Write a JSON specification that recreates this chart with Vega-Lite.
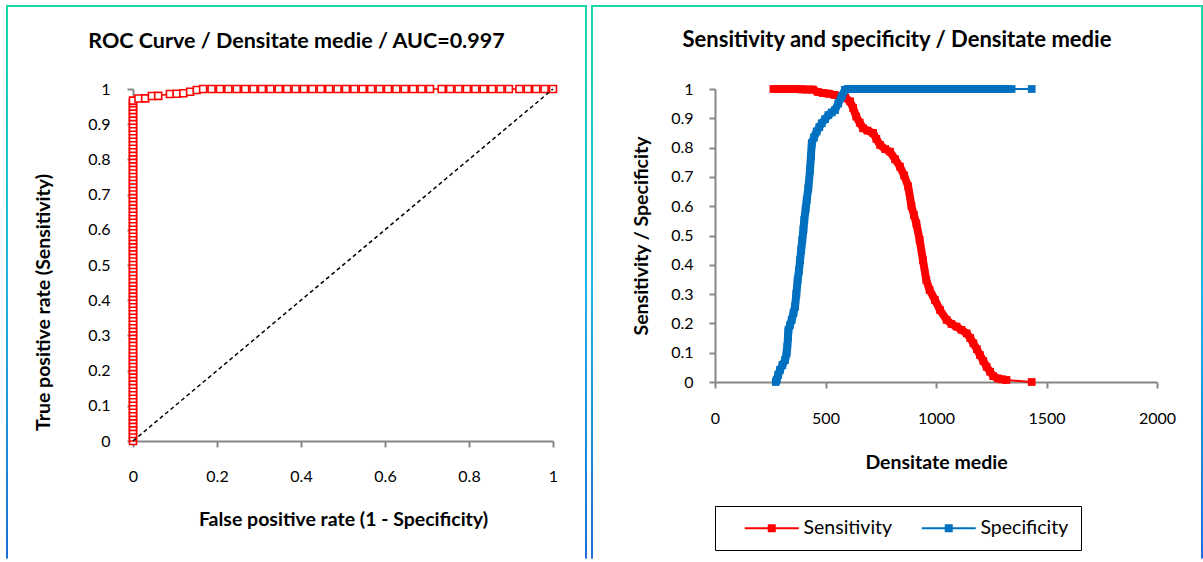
{
  "$schema": "https://vega.github.io/schema/vega-lite/v6.json",
  "background": "white",
  "padding": {"left": 6, "top": 5, "right": 0, "bottom": 0},
  "spacing": 4,
  "config": {
    "font": "Lato",
    "axis": {"domainColor": "#868686", "domainWidth": 2, "tickColor": "#868686", "tickWidth": 2, "tickSize": 6, "labelFont": "Lato", "labelFontSize": 16, "labelColor": "#000000", "labelFlush": false, "labelOverlap": false, "titleFont": "Lato", "titleFontSize": 19.5, "titleFontWeight": "bold", "titleColor": "#000000", "grid": false, "format": "~g"},
    "title": {"font": "Lato", "fontSize": 21.5, "fontWeight": "bold", "color": "#000000", "anchor": "middle", "baseline": "alphabetic", "offset": -46}
  },
  "resolve": {"scale": {"color": "independent"}, "legend": {"color": "independent"}},
  "datasets": {
    "roc": [
      {"f":0,"t":0},{"f":0,"t":0.01},{"f":0,"t":0.02},{"f":0,"t":0.03},{"f":0,"t":0.04},{"f":0,"t":0.05},{"f":0,"t":0.06},{"f":0,"t":0.07},{"f":0,"t":0.08},{"f":0,"t":0.09},
      {"f":0,"t":0.10},{"f":0,"t":0.11},{"f":0,"t":0.12},{"f":0,"t":0.13},{"f":0,"t":0.14},{"f":0,"t":0.15},{"f":0,"t":0.16},{"f":0,"t":0.17},{"f":0,"t":0.18},{"f":0,"t":0.19},
      {"f":0,"t":0.20},{"f":0,"t":0.21},{"f":0,"t":0.22},{"f":0,"t":0.23},{"f":0,"t":0.24},{"f":0,"t":0.25},{"f":0,"t":0.26},{"f":0,"t":0.27},{"f":0,"t":0.28},{"f":0,"t":0.29},
      {"f":0,"t":0.30},{"f":0,"t":0.31},{"f":0,"t":0.32},{"f":0,"t":0.33},{"f":0,"t":0.34},{"f":0,"t":0.35},{"f":0,"t":0.36},{"f":0,"t":0.37},{"f":0,"t":0.38},{"f":0,"t":0.39},
      {"f":0,"t":0.40},{"f":0,"t":0.41},{"f":0,"t":0.42},{"f":0,"t":0.43},{"f":0,"t":0.44},{"f":0,"t":0.45},{"f":0,"t":0.46},{"f":0,"t":0.47},{"f":0,"t":0.48},{"f":0,"t":0.49},
      {"f":0,"t":0.50},{"f":0,"t":0.51},{"f":0,"t":0.52},{"f":0,"t":0.53},{"f":0,"t":0.54},{"f":0,"t":0.55},{"f":0,"t":0.56},{"f":0,"t":0.57},{"f":0,"t":0.58},{"f":0,"t":0.59},
      {"f":0,"t":0.60},{"f":0,"t":0.61},{"f":0,"t":0.62},{"f":0,"t":0.63},{"f":0,"t":0.64},{"f":0,"t":0.65},{"f":0,"t":0.66},{"f":0,"t":0.67},{"f":0,"t":0.68},{"f":0,"t":0.69},
      {"f":0,"t":0.70},{"f":0,"t":0.71},{"f":0,"t":0.72},{"f":0,"t":0.73},{"f":0,"t":0.74},{"f":0,"t":0.75},{"f":0,"t":0.76},{"f":0,"t":0.77},{"f":0,"t":0.78},{"f":0,"t":0.79},
      {"f":0,"t":0.80},{"f":0,"t":0.81},{"f":0,"t":0.82},{"f":0,"t":0.83},{"f":0,"t":0.84},{"f":0,"t":0.85},{"f":0,"t":0.86},{"f":0,"t":0.87},{"f":0,"t":0.88},{"f":0,"t":0.89},
      {"f":0,"t":0.90},{"f":0,"t":0.91},{"f":0,"t":0.92},{"f":0,"t":0.93},{"f":0,"t":0.94},{"f":0,"t":0.95},{"f":0,"t":0.96},
      {"f":0,"t":0.967},{"f":0.013,"t":0.973},{"f":0.029,"t":0.9735},{"f":0.045,"t":0.98},{"f":0.06,"t":0.9805},{"f":0.088,"t":0.986},{"f":0.104,"t":0.9865},{"f":0.12,"t":0.988},{"f":0.136,"t":0.992},{"f":0.152,"t":0.997},{"f":0.167,"t":1},
      {"f":0.187,"t":1},{"f":0.207,"t":1},{"f":0.227,"t":1},{"f":0.247,"t":1},{"f":0.267,"t":1},{"f":0.287,"t":1},{"f":0.307,"t":1},{"f":0.327,"t":1},{"f":0.347,"t":1},{"f":0.367,"t":1},
      {"f":0.387,"t":1},{"f":0.407,"t":1},{"f":0.427,"t":1},{"f":0.447,"t":1},{"f":0.467,"t":1},{"f":0.487,"t":1},{"f":0.507,"t":1},{"f":0.527,"t":1},{"f":0.547,"t":1},{"f":0.567,"t":1},
      {"f":0.587,"t":1},{"f":0.607,"t":1},{"f":0.627,"t":1},{"f":0.647,"t":1},{"f":0.667,"t":1},{"f":0.687,"t":1},{"f":0.707,"t":1},
      {"f":0.735,"t":1},{"f":0.755,"t":1},{"f":0.775,"t":1},{"f":0.795,"t":1},{"f":0.815,"t":1},{"f":0.835,"t":1},{"f":0.855,"t":1},{"f":0.875,"t":1},{"f":0.895,"t":1},
      {"f":0.92,"t":1},{"f":0.94,"t":1},{"f":0.96,"t":1},{"f":0.98,"t":1},{"f":1,"t":1}
    ],
    "diag": [{"f":0,"t":0},{"f":1,"t":1}],
    "ss": [
      {"series":"Sensitivity","v":264,"s":1},{"series":"Sensitivity","v":290,"s":1},{"series":"Sensitivity","v":315,"s":1},{"series":"Sensitivity","v":340,"s":1},{"series":"Sensitivity","v":365,"s":1},
      {"series":"Sensitivity","v":390,"s":0.999},{"series":"Sensitivity","v":415,"s":0.998},{"series":"Sensitivity","v":443,"s":0.998},{"series":"Sensitivity","v":465,"s":0.99},{"series":"Sensitivity","v":489,"s":0.986},
      {"series":"Sensitivity","v":515,"s":0.984},{"series":"Sensitivity","v":540,"s":0.98},{"series":"Sensitivity","v":565,"s":0.976},{"series":"Sensitivity","v":590,"s":0.97},{"series":"Sensitivity","v":611,"s":0.958},
      {"series":"Sensitivity","v":625,"s":0.935},{"series":"Sensitivity","v":639,"s":0.906},{"series":"Sensitivity","v":655,"s":0.885},{"series":"Sensitivity","v":670,"s":0.866},{"series":"Sensitivity","v":690,"s":0.858},
      {"series":"Sensitivity","v":715,"s":0.85},{"series":"Sensitivity","v":730,"s":0.83},{"series":"Sensitivity","v":747,"s":0.809},{"series":"Sensitivity","v":770,"s":0.795},{"series":"Sensitivity","v":792,"s":0.786},
      {"series":"Sensitivity","v":815,"s":0.76},{"series":"Sensitivity","v":837,"s":0.735},{"series":"Sensitivity","v":856,"s":0.705},{"series":"Sensitivity","v":874,"s":0.668},{"series":"Sensitivity","v":889,"s":0.6},
      {"series":"Sensitivity","v":900,"s":0.57},{"series":"Sensitivity","v":911,"s":0.541},{"series":"Sensitivity","v":926,"s":0.485},{"series":"Sensitivity","v":941,"s":0.416},{"series":"Sensitivity","v":956,"s":0.348},
      {"series":"Sensitivity","v":971,"s":0.314},{"series":"Sensitivity","v":995,"s":0.28},{"series":"Sensitivity","v":1018,"s":0.246},{"series":"Sensitivity","v":1048,"s":0.212},{"series":"Sensitivity","v":1070,"s":0.198},
      {"series":"Sensitivity","v":1093,"s":0.189},{"series":"Sensitivity","v":1115,"s":0.178},{"series":"Sensitivity","v":1139,"s":0.166},{"series":"Sensitivity","v":1155,"s":0.15},{"series":"Sensitivity","v":1169,"s":0.132},
      {"series":"Sensitivity","v":1185,"s":0.112},{"series":"Sensitivity","v":1199,"s":0.092},{"series":"Sensitivity","v":1214,"s":0.072},{"series":"Sensitivity","v":1229,"s":0.052},{"series":"Sensitivity","v":1245,"s":0.035},
      {"series":"Sensitivity","v":1259,"s":0.02},{"series":"Sensitivity","v":1280,"s":0.012},{"series":"Sensitivity","v":1300,"s":0.009},{"series":"Sensitivity","v":1319,"s":0.007},{"series":"Sensitivity","v":1433,"s":0},
      {"series":"Specificity","v":275,"s":0},{"series":"Specificity","v":279,"s":0.007},{"series":"Specificity","v":286,"s":0.025},{"series":"Specificity","v":294,"s":0.041},{"series":"Specificity","v":305,"s":0.058},
      {"series":"Specificity","v":317,"s":0.075},{"series":"Specificity","v":324,"s":0.098},{"series":"Specificity","v":327,"s":0.12},{"series":"Specificity","v":330,"s":0.15},{"series":"Specificity","v":332,"s":0.177},
      {"series":"Specificity","v":340,"s":0.195},{"series":"Specificity","v":347,"s":0.212},{"series":"Specificity","v":355,"s":0.235},{"series":"Specificity","v":362,"s":0.257},{"series":"Specificity","v":368,"s":0.3},
      {"series":"Specificity","v":374,"s":0.348},{"series":"Specificity","v":380,"s":0.38},{"series":"Specificity","v":385,"s":0.416},{"series":"Specificity","v":390,"s":0.45},{"series":"Specificity","v":395,"s":0.485},
      {"series":"Specificity","v":400,"s":0.52},{"series":"Specificity","v":404,"s":0.553},{"series":"Specificity","v":410,"s":0.59},{"series":"Specificity","v":415,"s":0.621},{"series":"Specificity","v":422,"s":0.66},
      {"series":"Specificity","v":430,"s":0.724},{"series":"Specificity","v":434,"s":0.77},{"series":"Specificity","v":438,"s":0.815},{"series":"Specificity","v":448,"s":0.835},{"series":"Specificity","v":460,"s":0.855},
      {"series":"Specificity","v":472,"s":0.87},{"series":"Specificity","v":483,"s":0.883},{"series":"Specificity","v":498,"s":0.897},{"series":"Specificity","v":513,"s":0.911},{"series":"Specificity","v":528,"s":0.92},
      {"series":"Specificity","v":543,"s":0.928},{"series":"Specificity","v":558,"s":0.951},{"series":"Specificity","v":573,"s":0.974},{"series":"Specificity","v":588,"s":0.997},{"series":"Specificity","v":600,"s":1},
      {"series":"Specificity","v":630,"s":1},{"series":"Specificity","v":665,"s":1},{"series":"Specificity","v":700,"s":1},{"series":"Specificity","v":735,"s":1},{"series":"Specificity","v":770,"s":1},
      {"series":"Specificity","v":805,"s":1},{"series":"Specificity","v":840,"s":1},{"series":"Specificity","v":875,"s":1},{"series":"Specificity","v":910,"s":1},{"series":"Specificity","v":945,"s":1},
      {"series":"Specificity","v":980,"s":1},{"series":"Specificity","v":1015,"s":1},{"series":"Specificity","v":1050,"s":1},{"series":"Specificity","v":1085,"s":1},{"series":"Specificity","v":1120,"s":1},
      {"series":"Specificity","v":1155,"s":1},{"series":"Specificity","v":1190,"s":1},{"series":"Specificity","v":1225,"s":1},{"series":"Specificity","v":1260,"s":1},{"series":"Specificity","v":1295,"s":1},
      {"series":"Specificity","v":1342,"s":1},{"series":"Specificity","v":1433,"s":1}
    ]
  },
  "hconcat": [
    {
      "width": 579,
      "height": 555,
      "view": {"strokeWidth": 2, "fill": "white", "stroke": {"gradient": "linear", "x1": 0, "y1": 0, "x2": 0, "y2": 1, "stops": [{"offset": 0, "color": "#1ad8a8"}, {"offset": 0.5, "color": "#1eb4e6"}, {"offset": 0.994, "color": "#1a6fd6"}, {"offset": 0.9975, "color": "#ffffff"}, {"offset": 1, "color": "#ffffff"}]}},
      "title": {"text": "ROC Curve / Densitate medie / AUC=0.997"},
      "encoding": {
        "x": {"field": "f", "type": "quantitative", "scale": {"domain": [0, 1], "range": [126, 546], "nice": false, "zero": false},
              "axis": {"orient": "bottom", "offset": -120, "values": [0, 0.2, 0.4, 0.6, 0.8, 1], "labelPadding": 21, "title": "False positive rate (1 - Specificity)", "titlePadding": 26}},
        "y": {"field": "t", "type": "quantitative", "scale": {"domain": [0, 1], "range": [435, 83], "nice": false, "zero": false},
              "axis": {"orient": "left", "offset": -126, "values": [0, 0.1, 0.2, 0.3, 0.4, 0.5, 0.6, 0.7, 0.8, 0.9, 1], "labelPadding": 17, "title": "True positive rate (Sensitivity)", "titlePadding": 34, "titleY": 296}}
      },
      "layer": [
        {
          "data": {"values": [{}]},
          "mark": {"type": "rect", "fill": null, "stroke": "#868686", "strokeWidth": 2},
          "encoding": {"x": {"datum": 0, "type": "quantitative"}, "x2": {"datum": 1}, "y": {"datum": 0, "type": "quantitative"}, "y2": {"datum": 1}}
        },
        {
          "data": {"name": "roc"},
          "mark": {"type": "line", "color": "#ff0000", "strokeWidth": 1.5},
          "encoding": {"order": [{"field": "t", "type": "quantitative"}, {"field": "f", "type": "quantitative"}]}
        },
        {
          "data": {"name": "roc"},
          "mark": {"type": "point", "shape": "square", "size": 49, "filled": true, "fill": "#ffffff", "stroke": "#ff0000", "strokeWidth": 1.6, "opacity": 1}
        },
        {
          "data": {"name": "diag"},
          "mark": {"type": "line", "color": "#000000", "strokeWidth": 1.5, "strokeDash": [4, 3]},
          "encoding": {}
        }
      ]
    },
    {
      "width": 610,
      "height": 555,
      "view": {"strokeWidth": 2, "fill": "white", "stroke": {"gradient": "linear", "x1": 0, "y1": 0, "x2": 0, "y2": 1, "stops": [{"offset": 0, "color": "#1ad8a8"}, {"offset": 0.5, "color": "#1eb4e6"}, {"offset": 0.994, "color": "#1a6fd6"}, {"offset": 0.9975, "color": "#ffffff"}, {"offset": 1, "color": "#ffffff"}]}},
      "title": {"text": "Sensitivity and specificity / Densitate medie", "fontSize": 22},
      "encoding": {
        "x": {"field": "v", "type": "quantitative", "scale": {"domain": [0, 2000], "range": [123, 565], "nice": false, "zero": false},
              "axis": {"orient": "bottom", "offset": -179, "values": [0, 500, 1000, 1500, 2000], "format": "d", "labelPadding": 22, "title": "Densitate medie", "titlePadding": 27}},
        "y": {"field": "s", "type": "quantitative", "scale": {"domain": [0, 1], "range": [376, 83], "nice": false, "zero": false},
              "axis": {"orient": "left", "offset": -123, "values": [0, 0.1, 0.2, 0.3, 0.4, 0.5, 0.6, 0.7, 0.8, 0.9, 1], "labelPadding": 16, "title": "Sensitivity / Specificity", "titlePadding": 19}}
      },
      "layer": [
        {
          "data": {"values": [{}]},
          "mark": {"type": "rect", "fill": null, "stroke": "#868686", "strokeWidth": 2},
          "encoding": {"x": {"datum": 0, "type": "quantitative"}, "x2": {"datum": 2000}, "y": {"datum": 0, "type": "quantitative"}, "y2": {"datum": 1}}
        },
        {
          "data": {"name": "ss"},
          "transform": [{"filter": "datum.series == 'Sensitivity' && datum.v < 1400"}],
          "mark": {"type": "line", "strokeWidth": 8, "strokeJoin": "miter"},
          "encoding": {"color": {"field": "series", "type": "nominal", "scale": {"domain": ["Sensitivity", "Specificity"], "range": ["#ff0000", "#0070c0"]},
            "legend": {"orient": "none", "legendX": 123, "legendY": 500, "direction": "horizontal", "title": null, "strokeColor": "#000000", "padding": 12, "columnPadding": 11, "labelFont": "Lato", "labelFontSize": 19.5, "labelColor": "#000000", "labelOffset": 57, "symbolType": "M8,-1H62V1H8Z M31,-4H39V4H31Z", "symbolSize": 4, "symbolStrokeWidth": 0, "values": ["Sensitivity", "Specificity"],
              "encode": {"symbols": {"update": {"fill": {"scale": "color", "field": "value"}, "stroke": {"value": "transparent"}, "opacity": {"value": 1}}}}}}}
        },
        {
          "data": {"name": "ss"},
          "transform": [{"filter": "datum.series == 'Sensitivity'"}],
          "mark": {"type": "line", "strokeWidth": 2},
          "encoding": {"color": {"field": "series", "type": "nominal"}}
        },
        {
          "data": {"name": "ss"},
          "transform": [{"filter": "datum.series == 'Sensitivity'"}],
          "mark": {"type": "point", "shape": "square", "size": 60, "filled": true, "opacity": 1},
          "encoding": {"color": {"field": "series", "type": "nominal"}}
        },
        {
          "data": {"name": "ss"},
          "transform": [{"filter": "datum.series == 'Specificity' && datum.v < 1400"}],
          "mark": {"type": "line", "strokeWidth": 8, "strokeJoin": "miter"},
          "encoding": {"color": {"field": "series", "type": "nominal"}}
        },
        {
          "data": {"name": "ss"},
          "transform": [{"filter": "datum.series == 'Specificity'"}],
          "mark": {"type": "line", "strokeWidth": 2},
          "encoding": {"color": {"field": "series", "type": "nominal"}}
        },
        {
          "data": {"name": "ss"},
          "transform": [{"filter": "datum.series == 'Specificity'"}],
          "mark": {"type": "point", "shape": "square", "size": 60, "filled": true, "opacity": 1},
          "encoding": {"color": {"field": "series", "type": "nominal"}}
        }
      ]
    }
  ]
}
